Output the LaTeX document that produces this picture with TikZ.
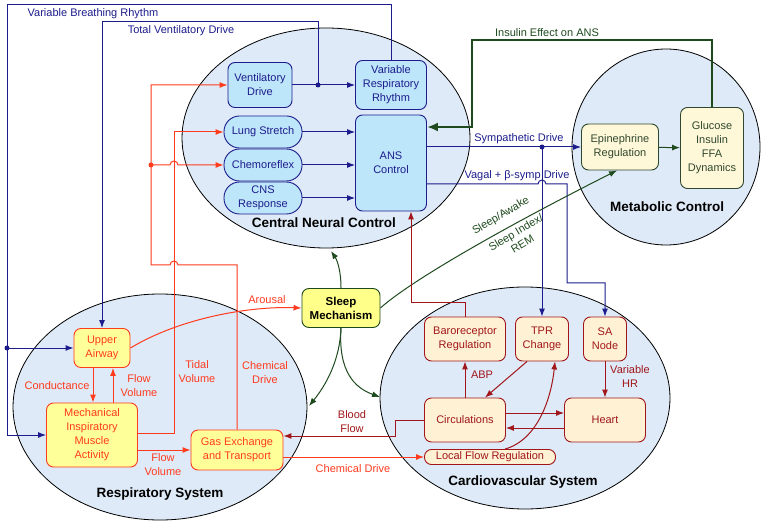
\documentclass[tikz,border=0pt]{standalone}
\usepackage{fontspec}
\setmainfont{Liberation Sans}
\usetikzlibrary{arrows.meta,positioning}

\definecolor{sysfill}{HTML}{DEEAF7}
\definecolor{cnsfill}{HTML}{BEE6FA}
\definecolor{navy}{HTML}{1C1C8C}
\definecolor{resred}{HTML}{FF3B1E}
\definecolor{resfill}{HTML}{FFFF99}
\definecolor{cvred}{HTML}{A0161B}
\definecolor{cvfill}{HTML}{FFF2D4}
\definecolor{metgreen}{HTML}{2F472F}
\definecolor{metfill}{HTML}{FFF8D8}
\definecolor{slgreen}{HTML}{1E4A1E}
\definecolor{slfill}{HTML}{FFFF8A}

\tikzset{
  box/.style={rectangle, rounded corners=7pt, line width=0.9pt, align=center,
    inner sep=1pt, font=\fontsize{11}{14}\selectfont},
  cnsbox/.style={box, draw=navy, fill=cnsfill, text=navy},
  pillbox/.style={cnsbox, rounded corners=15.5pt, minimum width=78pt, minimum height=32pt},
  resbox/.style={box, draw=resred, fill=resfill, text=resred},
  cvbox/.style={box, draw=cvred, fill=cvfill, text=cvred},
  metbox/.style={box, draw=metgreen, fill=metfill, text=metgreen},
  system/.style={draw=black, fill=sysfill, line width=0.8pt},
  sysname/.style={font=\fontsize{13.5}{16}\selectfont\bfseries},
  navyline/.style={draw=navy, line width=1pt},
  resline/.style={draw=resred, line width=1pt},
  cvline/.style={draw=cvred, line width=1pt},
  slline/.style={draw=slgreen, line width=1pt},
  navytext/.style={text=navy, font=\fontsize{11}{14}\selectfont, align=center},
  restext/.style={text=resred, font=\fontsize{11}{14}\selectfont, align=center},
  cvtext/.style={text=cvred, font=\fontsize{11}{14}\selectfont, align=center},
  sltext/.style={text=slgreen, font=\fontsize{11}{13}\selectfont, align=center},
}

\begin{document}
\begin{tikzpicture}[x=1pt, y=-1pt, >={Latex[length=8pt,width=6pt]}]
\useasboundingbox (0,0) rectangle (765,526);

% the four systems
\draw[system] (326,138) ellipse [x radius=144pt, y radius=110pt];
\draw[system] (666,147) ellipse [x radius=94pt, y radius=98pt];
\draw[system] (160,407) ellipse [x radius=147pt, y radius=113pt];
\draw[system] (525,398) ellipse [x radius=145pt, y radius=111pt];
\node[sysname] (cnc) at (324,223) {Central Neural Control};
\node[sysname] (mc) at (667,207) {Metabolic Control};
\node[sysname] (rs) at (160,494) {Respiratory System};
\node[sysname] (cvs) at (523,482) {Cardiovascular System};
\coordinate (cncbot) at (331,251);
\coordinate (rsedge) at (309,406);
\coordinate (cvsedge) at (380,397);

% central neural control
\node[cnsbox, minimum width=64pt, minimum height=45pt] (vdrive) at (260,85) {Ventilatory\\Drive};
\node[cnsbox, minimum width=71pt, minimum height=49pt] (vrr) at (391,85) {Variable\\Respiratory\\Rhythm};
\node[pillbox] (lung) at (263,132) {Lung Stretch};
\node[pillbox] (chemo) at (263,165) {Chemoreflex};
\node[pillbox] (cnsr) at (263,198) {CNS\\Response};
\node[cnsbox, minimum width=71pt, minimum height=96pt] (ans) at (391,163) {ANS\\Control};

% metabolic control
\node[metbox, minimum width=77pt, minimum height=46pt] (epi) at (620,147) {Epinephrine\\Regulation};
\node[metbox, minimum width=63pt, minimum height=81pt] (gluc) at (712,148) {Glucose\\Insulin\\FFA\\Dynamics};

% sleep
\node[box, draw=slgreen, fill=slfill, font=\fontsize{11.5}{14}\selectfont\bfseries,
  minimum width=78pt, minimum height=39pt] (sleep) at (341,308) {Sleep\\Mechanism};

% respiratory system
\node[resbox, minimum width=56pt, minimum height=39pt] (ua) at (102,348) {Upper\\Airway};
\node[resbox, minimum width=91pt, minimum height=64pt] (mech) at (92,435) {Mechanical\\Inspiratory\\Muscle\\Activity};
\node[resbox, minimum width=92pt, minimum height=40pt] (gas) at (237,450) {Gas Exchange\\and Transport};

% cardiovascular system
\node[cvbox, minimum width=81pt, minimum height=44pt] (baro) at (465,339) {Baroreceptor\\Regulation};
\node[cvbox, minimum width=53pt, minimum height=44pt] (tpr) at (542,339) {TPR\\Change};
\node[cvbox, minimum width=43pt, minimum height=44pt] (sa) at (605,339) {SA\\Node};
\node[cvbox, minimum width=81pt, minimum height=44pt] (circ) at (465,420) {Circulations};
\node[cvbox, minimum width=81pt, minimum height=44pt] (heart) at (605,420) {Heart};
\node[cvbox, rounded corners=7pt, minimum width=131pt, minimum height=15pt, inner sep=0pt] (lfr) at (490,457) {Local Flow Regulation};

% neural pathways
\draw[navyline, ->] (vdrive) -- (vrr);
\coordinate (tvd) at (318,85);
\draw[navyline, ->] (tvd) -- (318,22) -| (ua.north);
\fill[navy] (tvd) circle (2.5pt);
\node[navytext] (tvdtext) at (181,31) {Total Ventilatory Drive};
\draw[navyline, ->] (vrr.north) |- (7,5) |- (mech.west);
\coordinate (vbr) at (7,348);
\draw[navyline, ->] (vbr) -- (ua.west);
\fill[navy] (vbr) circle (2.5pt);
\node[navytext] (vbrtext) at (93,14) {Variable Breathing Rhythm};
\foreach \n in {lung,chemo,cnsr}
  \draw[navyline, ->] (\n.east) -- (\n.east -| ans.west);
\coordinate (symp) at (tpr.north |- epi.west);
\draw[navyline, ->] (ans.east |- epi.west) -- (epi.west);
\draw[navyline, ->] (symp) -- (tpr.north);
\fill[navy] (symp) circle (2.5pt);
\node[navytext] (symptext) at (519,139) {Sympathetic Drive};
\draw[navyline, ->] (ans.east |- 0,184) -- (538,184) arc[start angle=180, end angle=0, radius=4pt]
  -- (567,184) -- (567,283) -| (sa.north);
\node[navytext] (vagtext) at (517,176) {Vagal + β-symp Drive};

% metabolic pathways
\draw[draw=slgreen, line width=2.4pt, -{Latex[length=11pt,width=9pt]}] (gluc.north) |- (472,40) |- (ans.east |- 0,127);
\node[sltext] (instext) at (547,33) {Insulin Effect on ANS};
\draw[slline, ->] (epi) -- (gluc);

% sleep pathways
\draw[slline, ->] (sleep.north) .. controls (341,270) and (337,260) .. (cncbot);
\draw[slline, ->] (sleep.south) .. controls (340,360) and (326,385) .. (rsedge);
\draw[slline, ->] (sleep.south) .. controls (338,372) and (355,388) .. (cvsedge);
\draw[slline, ->] (sleep.east) .. controls (408,283) and (495,232) .. ([xshift=-3pt]epi.south);
\node[sltext, rotate=31] (awake) at (501,216) {Sleep/Awake};
\node[sltext, rotate=31] (sindex) at (519,238) {Sleep Index/\\REM};

% respiratory pathways
\draw[resline, ->] (ua.south -| 93,0) -- (mech.north -| 93,0);
\draw[resline, ->] (mech.north -| 113,0) -- (ua.south -| 113,0);
\node[restext] (condtext) at (57,386) {Conductance};
\node[restext] (fv1text) at (139,386) {Flow\\Volume};
\draw[resline, ->] (mech.east |- gas.west) -- (gas.west);
\node[restext] (fv2text) at (163,465) {Flow\\Volume};
\draw[resline, ->] (mech.east |- 0,433) -| (lung.west -| 174,0) -- (lung.west);
\node[restext] (tvtext) at (197,372) {Tidal\\Volume};
\coordinate (chbr) at (151,165);
\draw[resline, ->] (gas.north) |- (178,265) arc[start angle=0, end angle=180, radius=4pt]
  -- (151,265) |- (vdrive.west);
\draw[resline, ->] (chbr) -- (170,165) arc[start angle=180, end angle=0, radius=4pt] -- (chemo.west);
\fill[resred] (chbr) circle (2.5pt);
\node[restext] (cdtext) at (265,373) {Chemical\\Drive};
\draw[resline, ->] (ua.east) .. controls (180,318) and (250,306) .. (sleep.west);
\node[restext] (arotext) at (267,300) {Arousal};
\draw[resline, ->] (gas.east |- lfr.west) -- (lfr.west);
\node[restext] (cd2text) at (353,469) {Chemical Drive};

% cardiovascular pathways
\draw[cvline, ->] (circ.north) -- (baro.south);
\node[cvtext] (abptext) at (482,375) {ABP};
\draw[cvline, ->] ([xshift=-15pt]tpr.south) -- ([xshift=20pt]circ.north);
\draw[cvline, ->] ([xshift=15pt]lfr.north) .. controls (537,440) and (551,400) .. ([xshift=13pt]tpr.south);
\draw[cvline, ->] (circ.east |- 0,413) -- (heart.west |- 0,413);
\draw[cvline, ->] (heart.west |- 0,428) -- (circ.east |- 0,428);
\draw[cvline, ->] (sa) -- (heart);
\node[cvtext] (hrtext) at (630,377) {Variable\\HR};
\draw[cvline, ->] (baro.north) |- (411,303) -- (ans.south -| 411,0);
\draw[cvline, ->] (circ.west) -| (395,436) -- (gas.east |- 0,436);
\node[cvtext] (bftext) at (352,422) {Blood\\Flow};

\end{tikzpicture}
\end{document}
